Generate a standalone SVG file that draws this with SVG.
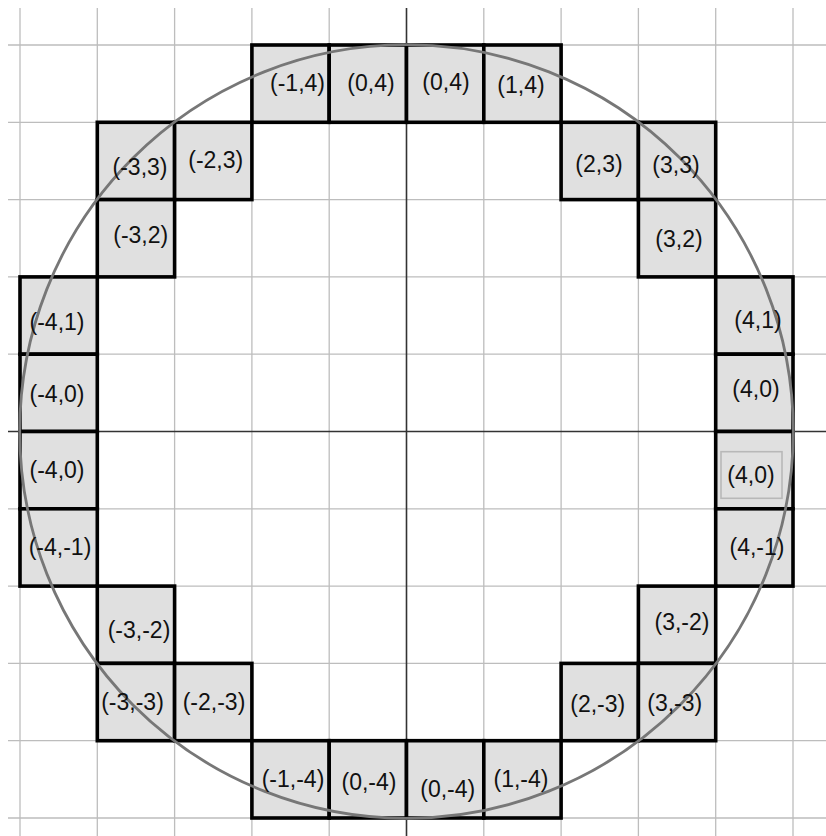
<svg xmlns="http://www.w3.org/2000/svg" width="826" height="836" viewBox="0 0 826 836">
<style>
.g{stroke:#bdbdbd;stroke-width:1.3;fill:none}
.ax{stroke:#333;stroke-width:1.6;fill:none}
.c{fill:#e0e0e0;stroke:#000;stroke-width:3.6}
.t{font-family:"Liberation Sans",Arial,sans-serif;font-size:23px;fill:#111;text-anchor:middle}
</style>
<rect width="826" height="836" fill="#fff"/>
<g id="grid">
<line class="g" x1="20" y1="8" x2="20" y2="836"/>
<line class="g" x1="97.3" y1="8" x2="97.3" y2="836"/>
<line class="g" x1="174.6" y1="8" x2="174.6" y2="836"/>
<line class="g" x1="251.9" y1="8" x2="251.9" y2="836"/>
<line class="g" x1="329.2" y1="8" x2="329.2" y2="836"/>
<line class="g" x1="483.8" y1="8" x2="483.8" y2="836"/>
<line class="g" x1="561.1" y1="8" x2="561.1" y2="836"/>
<line class="g" x1="638.4" y1="8" x2="638.4" y2="836"/>
<line class="g" x1="715.7" y1="8" x2="715.7" y2="836"/>
<line class="g" x1="793" y1="8" x2="793" y2="836"/>
<line class="g" x1="8" y1="45" x2="826" y2="45"/>
<line class="g" x1="8" y1="122.3" x2="826" y2="122.3"/>
<line class="g" x1="8" y1="199.6" x2="826" y2="199.6"/>
<line class="g" x1="8" y1="276.9" x2="826" y2="276.9"/>
<line class="g" x1="8" y1="354.2" x2="826" y2="354.2"/>
<line class="g" x1="8" y1="508.8" x2="826" y2="508.8"/>
<line class="g" x1="8" y1="586.1" x2="826" y2="586.1"/>
<line class="g" x1="8" y1="663.4" x2="826" y2="663.4"/>
<line class="g" x1="8" y1="740.7" x2="826" y2="740.7"/>
<line class="g" x1="8" y1="818" x2="826" y2="818"/>
<line class="ax" x1="406.5" y1="8" x2="406.5" y2="836"/>
<line class="ax" x1="8" y1="431.5" x2="826" y2="431.5"/>
</g>
<g id="cells">
<g id="c-m1-4a"><rect class="c" x="251.9" y="45" width="77.3" height="77.3"/></g>
<g id="c-0-4a"><rect class="c" x="329.2" y="45" width="77.3" height="77.3"/></g>
<g id="c-0-4b"><rect class="c" x="406.5" y="45" width="77.3" height="77.3"/></g>
<g id="c-1-4"><rect class="c" x="483.8" y="45" width="77.3" height="77.3"/></g>
<g id="c-m3-3"><rect class="c" x="97.3" y="122.3" width="77.3" height="77.3"/></g>
<g id="c-m2-3"><rect class="c" x="174.6" y="122.3" width="77.3" height="77.3"/></g>
<g id="c-2-3"><rect class="c" x="561.1" y="122.3" width="77.3" height="77.3"/></g>
<g id="c-3-3"><rect class="c" x="638.4" y="122.3" width="77.3" height="77.3"/></g>
<g id="c-m3-2"><rect class="c" x="97.3" y="199.6" width="77.3" height="77.3"/></g>
<g id="c-3-2"><rect class="c" x="638.4" y="199.6" width="77.3" height="77.3"/></g>
<g id="c-m4-1"><rect class="c" x="20" y="276.9" width="77.3" height="77.3"/></g>
<g id="c-4-1"><rect class="c" x="715.7" y="276.9" width="77.3" height="77.3"/></g>
<g id="c-m4-0a"><rect class="c" x="20" y="354.2" width="77.3" height="77.3"/></g>
<g id="c-4-0a"><rect class="c" x="715.7" y="354.2" width="77.3" height="77.3"/></g>
<g id="c-m4-0b"><rect class="c" x="20" y="431.5" width="77.3" height="77.3"/></g>
<g id="c-4-0b"><rect class="c" x="715.7" y="431.5" width="77.3" height="77.3"/><rect x="721" y="451.7" width="61" height="46.6" fill="none" stroke="#b8b8b8" stroke-width="1.6"/></g>
<g id="c-m4-m1"><rect class="c" x="20" y="508.8" width="77.3" height="77.3"/></g>
<g id="c-4-m1"><rect class="c" x="715.7" y="508.8" width="77.3" height="77.3"/></g>
<g id="c-m3-m2"><rect class="c" x="97.3" y="586.1" width="77.3" height="77.3"/></g>
<g id="c-3-m2"><rect class="c" x="638.4" y="586.1" width="77.3" height="77.3"/></g>
<g id="c-m3-m3"><rect class="c" x="97.3" y="663.4" width="77.3" height="77.3"/></g>
<g id="c-m2-m3"><rect class="c" x="174.6" y="663.4" width="77.3" height="77.3"/></g>
<g id="c-2-m3"><rect class="c" x="561.1" y="663.4" width="77.3" height="77.3"/></g>
<g id="c-3-m3"><rect class="c" x="638.4" y="663.4" width="77.3" height="77.3"/></g>
<g id="c-m1-m4"><rect class="c" x="251.9" y="740.7" width="77.3" height="77.3"/></g>
<g id="c-0-m4a"><rect class="c" x="329.2" y="740.7" width="77.3" height="77.3"/></g>
<g id="c-0-m4b"><rect class="c" x="406.5" y="740.7" width="77.3" height="77.3"/></g>
<g id="c-1-m4"><rect class="c" x="483.8" y="740.7" width="77.3" height="77.3"/></g>
</g>
<g id="connectors">
<circle cx="406.5" cy="431.5" r="386.8" fill="none" stroke="#777" stroke-width="2.8"/>
</g>
<g id="labels">
<text class="t" x="297.5" y="91">(-1,4)</text>
<text class="t" x="371" y="91">(0,4)</text>
<text class="t" x="446" y="90">(0,4)</text>
<text class="t" x="521" y="93">(1,4)</text>
<text class="t" x="140" y="175">(-3,3)</text>
<text class="t" x="215.7" y="168">(-2,3)</text>
<text class="t" x="599" y="171.5">(2,3)</text>
<text class="t" x="676" y="173">(3,3)</text>
<text class="t" x="140.7" y="243">(-3,2)</text>
<text class="t" x="679" y="246.5">(3,2)</text>
<text class="t" x="57" y="330">(-4,1)</text>
<text class="t" x="57" y="401.5">(-4,0)</text>
<text class="t" x="57" y="478">(-4,0)</text>
<text class="t" x="60" y="555">(-4,-1)</text>
<text class="t" x="758" y="328">(4,1)</text>
<text class="t" x="756" y="396.5">(4,0)</text>
<text class="t" x="751" y="483">(4,0)</text>
<text class="t" x="757" y="555">(4,-1)</text>
<text class="t" x="139" y="638">(-3,-2)</text>
<text class="t" x="682" y="630">(3,-2)</text>
<text class="t" x="132.5" y="710">(-3,-3)</text>
<text class="t" x="214" y="710">(-2,-3)</text>
<text class="t" x="597.7" y="711.5">(2,-3)</text>
<text class="t" x="674.7" y="710.5">(3,-3)</text>
<text class="t" x="293" y="786.5">(-1,-4)</text>
<text class="t" x="369" y="790">(0,-4)</text>
<text class="t" x="447.7" y="796.5">(0,-4)</text>
<text class="t" x="521" y="786.5">(1,-4)</text>
</g>
</svg>
